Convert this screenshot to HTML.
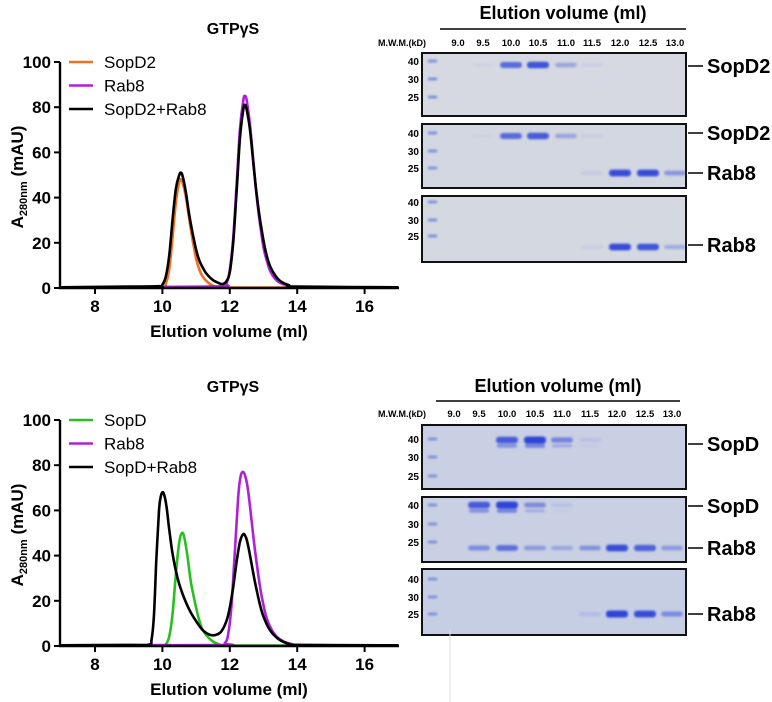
<!DOCTYPE html>
<html><head><meta charset="utf-8">
<style>
html,body{margin:0;padding:0;background:#fff;}
svg{display:block;font-family:"Liberation Sans",Arial,sans-serif;}
</style></head>
<body>
<svg id="fig" width="772" height="702" viewBox="0 0 772 702">
<defs>
<filter id="blur" x="-20%" y="-80%" width="140%" height="260%"><feGaussianBlur stdDeviation="1.1"/></filter>
</defs>
<g id="charts"></g>
<g id="gels"></g>
<line x1="450" y1="630" x2="450" y2="702" stroke="#ddd" stroke-width="1"/>
</svg>
<script>
// ---------- Chart data (Elution volume ml, A280 mAU) ----------
const xTicks = [8, 10, 12, 14, 16];
const yTicks = [0, 20, 40, 60, 80, 100];

const topSopD2X = [7, 9, 10.0, 10.1, 10.2, 10.3, 10.4, 10.5, 10.55, 10.6, 10.7, 10.8, 10.9, 11.0, 11.1, 11.2, 11.35, 11.5, 11.7, 12, 17];
const topSopD2Y = [0.3, 0.4, 0.5, 2, 8, 22, 38, 47, 48, 46.5, 40, 30, 21, 13, 8, 5, 2.5, 1, 0.3, 0.2, 0.2];

const topRab8X = [7, 10, 11.8, 11.9, 12.0, 12.1, 12.2, 12.3, 12.4, 12.45, 12.5, 12.6, 12.7, 12.8, 12.9, 13.0, 13.1, 13.2, 13.35, 13.5, 13.75, 14, 17];
const topRab8Y = [0.3, 0.5, 0.8, 2, 8, 22, 45, 70, 83, 85, 83, 72, 56, 40, 28, 18, 12, 7.5, 4, 2.2, 1, 0.5, 0.2];

const topMixX = [7, 9, 9.9, 10.0, 10.1, 10.2, 10.3, 10.4, 10.5, 10.55, 10.6, 10.7, 10.8, 10.9, 11.0, 11.1, 11.2, 11.3, 11.5, 11.7, 11.8, 11.9, 12.0, 12.1, 12.2, 12.3, 12.4, 12.45, 12.5, 12.6, 12.7, 12.8, 12.9, 13.0, 13.1, 13.2, 13.35, 13.5, 13.75, 14, 17];
const topMixY = [0.3, 0.6, 0.8, 1.5, 5, 14, 30, 44, 50, 51, 49.5, 42, 32, 24, 17, 12, 9, 6.5, 3.5, 2, 1.8, 3, 7, 20, 42, 66, 79, 81, 79, 70, 55, 41, 30, 21, 14, 9.5, 5.5, 3, 1.3, 0.6, 0.3];

const botSopDX = [7, 10.0, 10.1, 10.2, 10.3, 10.4, 10.5, 10.58, 10.65, 10.75, 10.85, 11.0, 11.1, 11.2, 11.35, 11.5, 11.7, 11.9, 17];
const botSopDY = [0.3, 0.4, 0.8, 4, 14, 32, 46, 50, 48, 39, 28, 17, 11, 7, 4, 2, 0.6, 0.2, 0.2];

const botRab8X = [7, 11.7, 11.85, 11.95, 12.05, 12.15, 12.25, 12.32, 12.4, 12.48, 12.55, 12.65, 12.75, 12.9, 13.0, 13.1, 13.25, 13.4, 13.6, 13.85, 14.1, 17];
const botRab8Y = [0.3, 0.4, 1.2, 5, 18, 42, 66, 75, 77, 74, 68, 55, 42, 26, 18, 12, 7, 4, 2, 0.8, 0.4, 0.2];

const botMixX = [7, 9.0, 9.6, 9.68, 9.75, 9.82, 9.9, 9.95, 10.0, 10.05, 10.12, 10.2, 10.3, 10.45, 10.6, 10.8, 11.0, 11.2, 11.4, 11.6, 11.75, 11.9, 12.0, 12.1, 12.2, 12.3, 12.4, 12.48, 12.55, 12.65, 12.75, 12.9, 13.0, 13.15, 13.3, 13.5, 13.75, 14, 17];
const botMixY = [0.3, 0.5, 0.6, 3, 14, 38, 60, 66, 68, 67, 62, 52, 41, 30, 23, 16, 11, 7, 5, 5, 6.5, 11, 17, 26, 37, 46, 49.5, 48, 44, 36, 28, 18, 13, 8, 5, 2.5, 1, 0.5, 0.3];

const topSeries = [
  {name:'SopD2', xs:topSopD2X, ys:topSopD2Y, color:'#f07020'},
  {name:'Rab8', xs:topRab8X, ys:topRab8Y, color:'#b020d8'},
  {name:'SopD2+Rab8', xs:topMixX, ys:topMixY, color:'#000'}
];
const botSeries = [
  {name:'SopD', xs:botSopDX, ys:botSopDY, color:'#28c020'},
  {name:'Rab8', xs:botRab8X, ys:botRab8Y, color:'#b020d8'},
  {name:'SopD+Rab8', xs:botMixX, ys:botMixY, color:'#000'}
];

// ---------- Gel data ----------
const laneLabels = ['9.0','9.5','10.0','10.5','11.0','11.5','12.0','12.5','13.0'];
const markerLabels = ['40','30','25'];
const g1SopD2 = [0, 0.03, 0.75, 0.9, 0.35, 0.08, 0, 0, 0];
const g2SopD2 = [0, 0.03, 0.75, 0.85, 0.35, 0.08, 0, 0, 0];
const g2Rab8  = [0, 0, 0, 0, 0, 0.1, 0.95, 0.95, 0.45];
const g3Rab8  = [0, 0, 0, 0, 0, 0.08, 0.95, 0.9, 0.3];
const h1SopD  = [0, 0, 0.85, 1.0, 0.55, 0.12, 0, 0, 0];
const h2SopD  = [0, 0.85, 1.0, 0.5, 0.12, 0, 0, 0, 0];
const h2Rab8  = [0, 0.5, 0.7, 0.4, 0.3, 0.45, 0.95, 0.8, 0.4];
const h3Rab8  = [0, 0, 0, 0, 0, 0.15, 1.0, 0.95, 0.5];

const NS = 'http://www.w3.org/2000/svg';
function mk(tag, attrs, parent, text){
  const e = document.createElementNS(NS, tag);
  for (const k in attrs) e.setAttribute(k, attrs[k]);
  if (text !== undefined) e.textContent = text;
  parent.appendChild(e);
  return e;
}

function drawChart(parent, top, series, prefix){
  const x0 = 60, x1 = 399;
  const yZero = top + 226, yHundred = top;
  const sx = v => 95 + (v - 8) * 33.7;
  const sy = v => yZero - v * (yZero - yHundred) / 100;
  const g = mk('g', {}, parent);
  
  
  const t = mk('text', {x:233, y:top-28, 'text-anchor':'middle', 'font-size':16, 'font-weight':'bold'}, g, 'GTPγS');
  
  
  series.forEach(s => {
    let d = '';
    for (let i = 0; i < s.xs.length; i++) {
      const px = sx(s.xs[i]), py = sy(s.ys[i]);
      if (i === 0) { d += 'M' + px.toFixed(1) + ',' + py.toFixed(1); continue; }
      const p0x = sx(s.xs[Math.max(i-2,0)]), p0y = sy(s.ys[Math.max(i-2,0)]);
      const p1x = sx(s.xs[i-1]), p1y = sy(s.ys[i-1]);
      const p3x = sx(s.xs[Math.min(i+1,s.xs.length-1)]), p3y = sy(s.ys[Math.min(i+1,s.xs.length-1)]);
      const c1x = p1x + (px - p0x)/6, c1y = p1y + (py - p0y)/6;
      const c2x = px - (p3x - p1x)/6, c2y = py - (p3y - p1y)/6;
      d += 'C' + c1x.toFixed(1)+','+c1y.toFixed(1)+' '+c2x.toFixed(1)+','+c2y.toFixed(1)+' '+px.toFixed(1)+','+py.toFixed(1);
    }
    const p = mk('path', {d:d, fill:'none', stroke:s.color, 'stroke-width':2.6, 'stroke-linejoin':'round'}, g);
    
    
  });
  const ax = mk('path', {d:'M'+x0+','+yHundred+'V'+yZero+'H'+x1, fill:'none', stroke:'#000', 'stroke-width':2.4}, g);
  
  
  yTicks.forEach(v => {
    mk('line', {x1:x0-6, x2:x0, y1:sy(v), y2:sy(v), stroke:'#000', 'stroke-width':2}, g);
    const l = mk('text', {x:x0-9, y:sy(v)+6, 'text-anchor':'end', 'font-size':17, 'font-weight':'bold'}, g, String(v));
    
    
  });
  xTicks.forEach(v => {
    mk('line', {x1:sx(v), x2:sx(v), y1:yZero, y2:yZero+6, stroke:'#000', 'stroke-width':2}, g);
    const l = mk('text', {x:sx(v), y:yZero+24, 'text-anchor':'middle', 'font-size':17, 'font-weight':'bold'}, g, String(v));
    
    
  });
  const xt = mk('text', {x:229, y:yZero+49, 'text-anchor':'middle', 'font-size':17, 'font-weight':'bold'}, g, 'Elution volume (ml)');
  
  
  const yt = mk('text', {transform:'translate(23,'+(top+115)+') rotate(-90)', 'text-anchor':'middle', 'font-size':17, 'font-weight':'bold'}, g);
  
  
  mk('tspan', {}, yt, 'A');
  mk('tspan', {'font-size':11, dy:4}, yt, '280nm');
  mk('tspan', {dy:-4}, yt, ' (mAU)');
  series.forEach((s, i) => {
    const ly = top + i * 23.5;
    const le = mk('g', {}, g);
    
    
    mk('line', {x1:69, x2:93, y1:ly, y2:ly, stroke:s.color, 'stroke-width':2.6}, le);
    mk('text', {x:104, y:ly+6, 'font-size':17}, le, s.name);
  });
}

function drawGelPanel(parent, cfg, prefix){
  const g = mk('g', {}, parent);
  
  
  const tt = mk('text', {x:cfg.titleX, y:cfg.titleY, 'text-anchor':'middle', 'font-size':18, 'font-weight':'bold'}, g, 'Elution volume (ml)');
  
  
  mk('line', {x1:cfg.lineX1, x2:cfg.lineX2, y1:cfg.lineY, y2:cfg.lineY, stroke:'#000', 'stroke-width':1.5}, g);
  const mw = mk('text', {x:402, y:cfg.laneY, 'text-anchor':'middle', 'font-size':9, 'font-weight':'bold'}, g, 'M.W.M.(kD)');
  
  
  laneLabels.forEach((l, i) => {
    const t = mk('text', {x:cfg.laneX[i], y:cfg.laneY, 'text-anchor':'middle', 'font-size':9.5, 'font-weight':'bold'}, g, l);
    
    
  });
  cfg.gels.forEach((gel, gi) => {
    const gg = mk('g', {}, g);
    
    
    mk('rect', {x:422, y:gel.y, width:264, height:gel.h, fill:gel.bg, stroke:'#111', 'stroke-width':2}, gg);
    const bg = mk('g', {filter:'url(#blur)'}, gg);
    gel.markers.forEach((my, mi) => {
      mk('rect', {x:428, y:my-1.5, width:9, height:3, fill:'#7f93d8'}, bg);
      const t = mk('text', {x:419, y:my+4, 'text-anchor':'end', 'font-size':10, 'font-weight':'bold'}, gg, markerLabels[mi]);
      
      
    });
    gel.bands.forEach(b => {
      b.vals.forEach((v, i) => {
        if (v <= 0) return;
        const op = Math.min(1, v);
        const hgt = 3 + v * 4;
        mk('rect', {x:cfg.laneX[i]-11, y:b.y-hgt/2, width:22, height:hgt, rx:3, fill:'#2f45d8', 'fill-opacity':op}, bg);
        if (b.sub) mk('rect', {x:cfg.laneX[i]-10, y:b.y+6-hgt/3, width:20, height:hgt*0.6, rx:2, fill:'#5266dc', 'fill-opacity':op*0.7}, bg);
      });
    });
    gel.labels.forEach(lb => {
      mk('line', {x1:688, x2:703, y1:lb.y, y2:lb.y, stroke:'#000', 'stroke-width':1.5}, gg);
      const t = mk('text', {x:707, y:lb.y+7, 'font-size':20, 'font-weight':'bold'}, gg, lb.text);
      
      
    });
  });
}

const charts = document.getElementById('charts');
const gels = document.getElementById('gels');
drawChart(charts, 62, topSeries, 'top');
drawChart(charts, 420, botSeries, 'bottom');

drawGelPanel(gels, {
  titleX:563, titleY:19, lineX1:440, lineX2:686, lineY:29, laneY:46,
  laneX:[458,483,511,538,566,592,620,648,675],
  gels:[
    {y:53, h:63, bg:'#d6d9e2', markers:[61,79,97], bands:[{y:65, vals:g1SopD2}], labels:[{y:66, text:'SopD2'}]},
    {y:124, h:64, bg:'#d3d7e1', markers:[133,151,168], bands:[{y:136, vals:g2SopD2},{y:173, vals:g2Rab8}], labels:[{y:133, text:'SopD2'},{y:173, text:'Rab8'}]},
    {y:196, h:66, bg:'#d4d8e1', markers:[202,220,236], bands:[{y:247, vals:g3Rab8}], labels:[{y:245, text:'Rab8'}]}
  ]
}, 'top');

drawGelPanel(gels, {
  titleX:558, titleY:392, lineX1:436, lineX2:680, lineY:401, laneY:417,
  laneX:[454,479,507,535,562,590,617,645,672],
  gels:[
    {y:425, h:64, bg:'#c9d0e3', markers:[439,457,476], bands:[{y:440, vals:h1SopD, sub:true}], labels:[{y:444, text:'SopD'}]},
    {y:497, h:65, bg:'#c9d0e3', markers:[505,524,542], bands:[{y:505, vals:h2SopD, sub:true},{y:548, vals:h2Rab8}], labels:[{y:506, text:'SopD'},{y:548, text:'Rab8'}]},
    {y:569, h:66, bg:'#c6cee4', markers:[579,597,614], bands:[{y:614, vals:h3Rab8}], labels:[{y:614, text:'Rab8'}]}
  ]
}, 'bottom');
</script>
</body></html>
